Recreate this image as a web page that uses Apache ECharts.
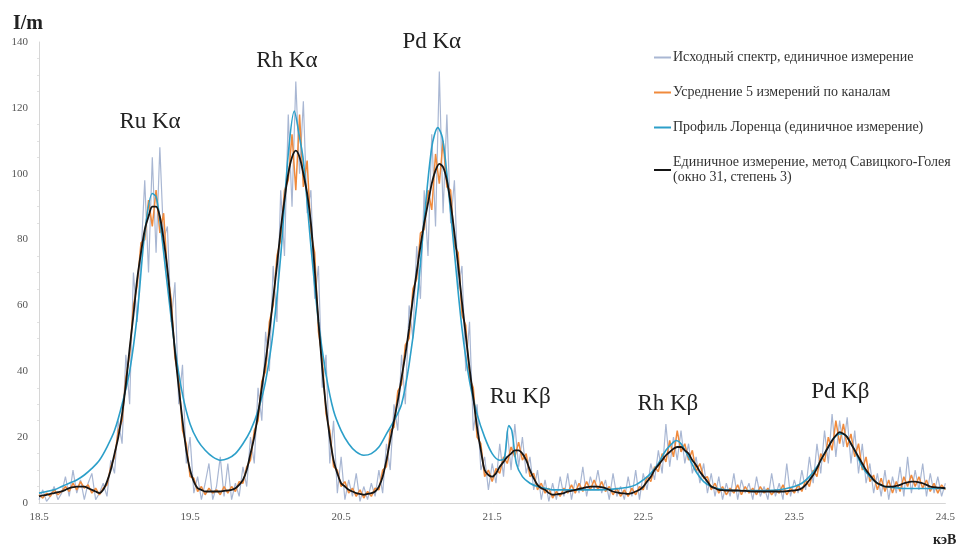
<!DOCTYPE html>
<html>
<head>
<meta charset="utf-8">
<script src="https://cdn.jsdelivr.net/npm/echarts@6/dist/echarts.min.js"></script>
<style>
  html, body { margin: 0; padding: 0; background: #fff; }
  #chart { width: 958px; height: 546px; }
</style>
</head>
<body>
<div id="chart"></div>
<script>
// sampling grid of the measured spectra, keV
const E_START = 18.5
const E_STEP = 0.025

const rawSpectrum = [
  1, 4, 0.5, 2, 5, 1, 3, 8, 2, 10,
  3, 7, 1, 6, 9, 1, 3, 6, 2, 13,
  9, 25, 18, 45, 30, 70, 55, 75, 98, 70,
  105, 76, 108, 80, 84, 55, 67, 30, 42, 12,
  20, 3, 8, 1, 6, 12, 1, 5, 14, 2,
  12, 1, 6, 2, 11, 5, 20, 12, 35, 25,
  52, 40, 72, 55, 95, 75, 118, 90, 128, 100,
  122, 88, 95, 62, 72, 35, 45, 12, 25, 3,
  14, 1, 7, 2, 9, 0.5, 5, 1, 6, 2,
  10, 3, 18, 10, 30, 22, 45, 30, 60, 50,
  78, 62, 95, 75, 112, 84, 131, 88, 118, 85,
  98, 65, 72, 40, 55, 22, 30, 10, 14, 4,
  12, 6, 18, 8, 22, 10, 24, 11, 20, 9,
  14, 4, 10, 1, 7, 0.5, 6, 1, 8, 2,
  9, 1, 7, 3, 11, 2, 8, 4, 10, 3,
  7, 1, 9, 2, 5, 1, 8, 2, 10, 1,
  9, 4, 12, 7, 16, 9, 24, 11, 20, 13,
  22, 12, 18, 9, 14, 6, 12, 3, 9, 2,
  8, 1, 6, 2, 9, 1, 7, 3, 6, 1,
  8, 2, 5, 1, 9, 2, 6, 1, 12, 2,
  7, 3, 10, 4, 14, 6, 18, 9, 22, 12,
  27, 14, 25, 17, 26, 12, 22, 9, 18, 6,
  12, 3, 9, 2, 10, 1, 8, 3, 11, 2,
  14, 3, 10, 4, 12, 2, 9, 3, 8, 2, 6
]

// average of 5 measurements (orange)
const averaged5 = [
  2.5, 1.5, 3, 2, 4, 2.5, 3.5, 5, 3.5, 6,
  4, 6.5, 4.5, 5.5, 3, 4.5, 2.5, 4.5, 5.5, 11,
  14, 22, 25, 38, 45, 60, 66, 79, 80, 92,
  84, 95, 82, 88, 70, 62, 44, 38, 22, 18,
  8, 7.5, 3.5, 5, 2.5, 4.5, 3, 4, 2.5, 5,
  3, 5, 3.5, 6.5, 6, 11, 13, 22, 25, 37,
  40, 55, 60, 75, 80, 95, 98, 112, 95, 118,
  96, 104, 82, 76, 52, 44, 27, 22, 11, 10,
  5, 6.5, 3, 4.5, 2, 4, 1.5, 3.5, 2, 4.5,
  4, 10, 11, 22, 23, 34, 36, 48, 50, 65,
  68, 82, 83, 95, 89, 106, 97, 110, 96, 95,
  78, 76, 57, 54, 38, 35, 20, 18, 8, 10,
  6.5, 10.5, 9, 14, 12, 17, 14, 18.5, 13, 15,
  8, 9, 4, 6, 3, 4.5, 1.5, 3.5, 2, 4.5,
  3, 5.5, 3, 6, 3.5, 6.5, 4, 7, 4, 6.5,
  3.5, 5, 2.5, 4.5, 2, 4, 2, 4.5, 2.5, 5,
  4, 8, 6.5, 11, 9.5, 15, 12.5, 19, 14, 22,
  15.5, 18, 13, 16, 9.5, 12, 7.5, 8, 4, 6,
  3, 5, 2.5, 4.5, 3, 5.5, 2.5, 5, 3, 4.5,
  2.5, 5, 3, 4.5, 2.5, 4, 3, 5.5, 2.5, 4.5,
  3, 5.5, 3.5, 7, 5, 10, 8, 15, 12.5, 20,
  16, 25, 18, 24, 17, 21, 14, 18, 10, 14,
  6.5, 8.5, 4, 7.5, 3.5, 7, 3, 6.5, 3.5, 8,
  5, 8.5, 5, 8, 4.5, 7, 3.5, 6, 3, 5.5, 4
]

// Savitzky-Golay smoothed single measurement (black)
const savGol = [
  2, 2.3, 2.5, 2.8, 3, 3.3, 3.5, 4, 4.5, 4.8,
  5, 5, 5, 4.5, 4, 3.5, 3, 4, 6.5, 10,
  15, 20, 27, 36, 47, 57, 68, 76, 83, 87,
  90, 90, 87, 80, 71, 59, 46, 35, 25, 16,
  10, 6.5, 4.5, 4, 3.5, 3.5, 3.5, 3.5, 3.5, 3.7,
  3.8, 4, 4.5, 5.5, 7, 10, 15, 20, 27, 35,
  43, 52, 62, 72, 83, 92, 100, 105, 107, 105,
  100, 94, 85, 71, 55, 41, 29, 20, 13, 9,
  6, 5, 4, 3.5, 3, 2.8, 2.5, 2.8, 3, 3.5,
  5, 8, 13, 19, 25, 31, 38, 45, 53, 62,
  70, 78, 85, 91, 97, 101, 103, 102, 98, 91,
  82, 72, 61, 51, 41, 32, 23, 16, 10, 8.5,
  8, 9, 11, 12.5, 14, 15, 16, 16, 15, 13,
  10, 7.5, 5.5, 4.5, 4, 3, 2.5, 2.6, 2.8, 3,
  3.5, 3.7, 4, 4.3, 4.5, 4.8, 5, 5, 5, 4.8,
  4.5, 4, 3.5, 3.2, 3, 2.9, 2.8, 3, 3.5, 4,
  5, 6.5, 8, 10, 11.5, 13, 14.5, 15.5, 16.5, 17,
  17, 16, 15, 13, 11.5, 9.5, 8, 6.5, 5, 4.5,
  4, 3.9, 3.8, 3.8, 3.8, 3.8, 3.7, 3.7, 3.6, 3.5,
  3.5, 3.5, 3.5, 3.5, 3.5, 3.5, 3.5, 3.5, 3.6, 3.7,
  3.8, 4, 4.5, 5.5, 7, 8.5, 10.5, 13, 15, 17,
  19, 20.5, 21.5, 21, 20, 18, 16, 14, 12, 10,
  8.5, 7, 6, 5.5, 5, 5, 5, 5.2, 5.5, 6,
  6.3, 6.5, 6.5, 6.3, 6, 5.5, 5, 4.8, 4.7, 4.6, 4.5
]

// Lorentz profile fit (teal), energies and intensities
const lorentzE = [
  18.5, 18.55, 18.6, 18.65, 18.7, 18.75, 18.8, 18.85, 18.9, 18.95,
  19.0, 19.05, 19.1, 19.15, 19.2, 19.25, 19.275, 19.3, 19.35, 19.4, 19.45, 19.5,
  19.55, 19.6, 19.65, 19.7, 19.75, 19.8, 19.85, 19.9, 19.95,
  20.0, 20.05, 20.1, 20.15, 20.19, 20.225, 20.25, 20.3, 20.35, 20.4, 20.45, 20.5,
  20.55, 20.6, 20.65, 20.7, 20.75, 20.8, 20.85, 20.9, 20.95,
  21.0, 21.05, 21.1, 21.14, 21.17, 21.2, 21.25, 21.3, 21.35, 21.4, 21.45, 21.5,
  21.55, 21.58, 21.61, 21.63, 21.66, 21.7, 21.75, 21.8, 21.85, 21.9, 21.95,
  22.0, 22.1, 22.2, 22.3, 22.4, 22.45,
  22.5, 22.55, 22.6, 22.65, 22.7, 22.72, 22.75, 22.8, 22.85, 22.9, 22.95,
  23.0, 23.1, 23.2, 23.3, 23.4, 23.5,
  23.55, 23.6, 23.65, 23.7, 23.75, 23.8, 23.825, 23.85, 23.9, 23.95,
  24.0, 24.05, 24.1, 24.2, 24.3, 24.4, 24.5
]
const lorentzI = [
  3, 3.5, 4, 5, 6, 7, 8.5, 10.5, 13, 17,
  22, 30, 40, 57, 82, 94, 93, 86, 66, 47, 33, 24,
  19, 16, 14, 13, 13.5, 15, 18, 22, 28,
  37, 52, 75, 106, 119, 111, 104, 78, 55, 39, 28, 22,
  18, 15.5, 14.5, 15, 17, 21, 25, 30, 42,
  60, 86, 108, 114, 111, 100, 76, 53, 37, 27, 20, 15,
  13, 13.5, 23.5, 22, 12, 8, 6, 5, 4.5, 4, 4,
  4, 4, 4, 4.2, 4.8, 5.5,
  7, 9, 12, 16, 18.5, 19, 18, 14, 9.5, 6.5, 5,
  4.3, 3.8, 3.8, 3.8, 4, 5,
  6, 8, 11, 15, 19, 21, 21, 20, 16, 11,
  8, 6, 5, 4.5, 4.4, 4.4, 4.4
]

const seriesNames = [
  'Исходный спектр, единичное измерение',
  'Усреднение 5 измерений по каналам',
  'Профиль Лоренца (единичное измерение)',
  'Единичное измерение, метод Савицкого-Голея\n(окно 31, степень 3)'
]

// peak labels: [text, keV, I/m]
const peakLabels = [
  ['Ru Kα', 19.235, 115.8],
  ['Rh Kα', 20.141, 134.2],
  ['Pd Kα', 21.100, 140.0],
  ['Ru Kβ', 21.685, 32.2],
  ['Rh Kβ', 22.663, 30.1],
  ['Pd Kβ', 23.805, 33.7]
]

const xTicks = [18.5, 24.5, 1]   // min, max, interval
const yTicks = [0, 140, 20]

const serif = 'Liberation Serif, Times New Roman, serif'

const onGrid = arr => arr.map((v, i) => [+(E_START + i * E_STEP).toFixed(3), v])
const pairs = (xs, ys) => xs.map((x, i) => [x, ys[i]])

const chart = echarts.init(document.getElementById('chart'))

chart.setOption({
  animation: false,
  backgroundColor: '#fff',
  grid: { left: 39, right: 5, top: 42, bottom: 43 },
  legend: {
    orient: 'vertical',
    left: 649,
    top: 45,
    icon: 'rect',
    itemWidth: 17,
    itemHeight: 2,
    itemGap: 20,
    textStyle: { fontFamily: serif, fontSize: 14, color: '#333', lineHeight: 15, padding: [0, 0, 0, -3] },
    data: seriesNames
  },
  xAxis: {
    type: 'value',
    min: xTicks[0],
    max: xTicks[1],
    interval: xTicks[2],
    axisLine: { lineStyle: { color: '#d6d6d6' } },
    axisTick: { show: false },
    splitLine: { show: false },
    axisLabel: { fontFamily: serif, fontSize: 11, color: '#555', margin: 9, formatter: v => v.toFixed(1) }
  },
  yAxis: {
    type: 'value',
    min: yTicks[0],
    max: yTicks[1],
    interval: yTicks[2],
    name: 'I/m',
    nameLocation: 'end',
    nameGap: 8,
    nameTextStyle: { fontFamily: serif, fontSize: 20, fontWeight: 'bold', color: '#222', align: 'right', padding: [0, -4, 0, 0] },
    axisLine: { show: true, lineStyle: { color: '#d6d6d6' } },
    axisTick: { show: false },
    minorTick: { show: true, splitNumber: 4, length: 2, lineStyle: { color: '#e2e2e2' } },
    splitLine: { show: false },
    axisLabel: { fontFamily: serif, fontSize: 11, color: '#555', margin: 11 }
  },
  graphic: [{
    type: 'text',
    left: 933,
    top: 533,
    style: { text: 'кэВ', font: 'bold 14px ' + serif, fill: '#222' }
  }],
  series: [
    {
      name: seriesNames[0],
      type: 'line',
      data: onGrid(rawSpectrum),
      showSymbol: false,
      color: '#a9b7d3',
      lineStyle: { width: 1.2, color: '#a9b7d3' }
    },
    {
      name: seriesNames[1],
      type: 'line',
      data: onGrid(averaged5),
      showSymbol: false,
      color: '#f08a3c',
      lineStyle: { width: 1.5, color: '#f08a3c' }
    },
    {
      name: seriesNames[2],
      type: 'line',
      data: pairs(lorentzE, lorentzI),
      showSymbol: false,
      smooth: 0.3,
      color: '#2c9fc9',
      lineStyle: { width: 1.6, color: '#2c9fc9' }
    },
    {
      name: seriesNames[3],
      type: 'line',
      data: onGrid(savGol),
      showSymbol: false,
      smooth: 0.3,
      color: '#151515',
      lineStyle: { width: 1.8, color: '#151515' },
      markPoint: {
        symbol: 'circle',
        symbolSize: 0,
        silent: true,
        label: {
          show: true,
          position: 'inside',
          fontFamily: serif,
          fontSize: 23,
          color: '#222',
          formatter: p => p.name
        },
        data: peakLabels.map(([t, x, y]) => ({ name: t, coord: [x, y] }))
      }
    }
  ]
})
</script>
</body>
</html>
